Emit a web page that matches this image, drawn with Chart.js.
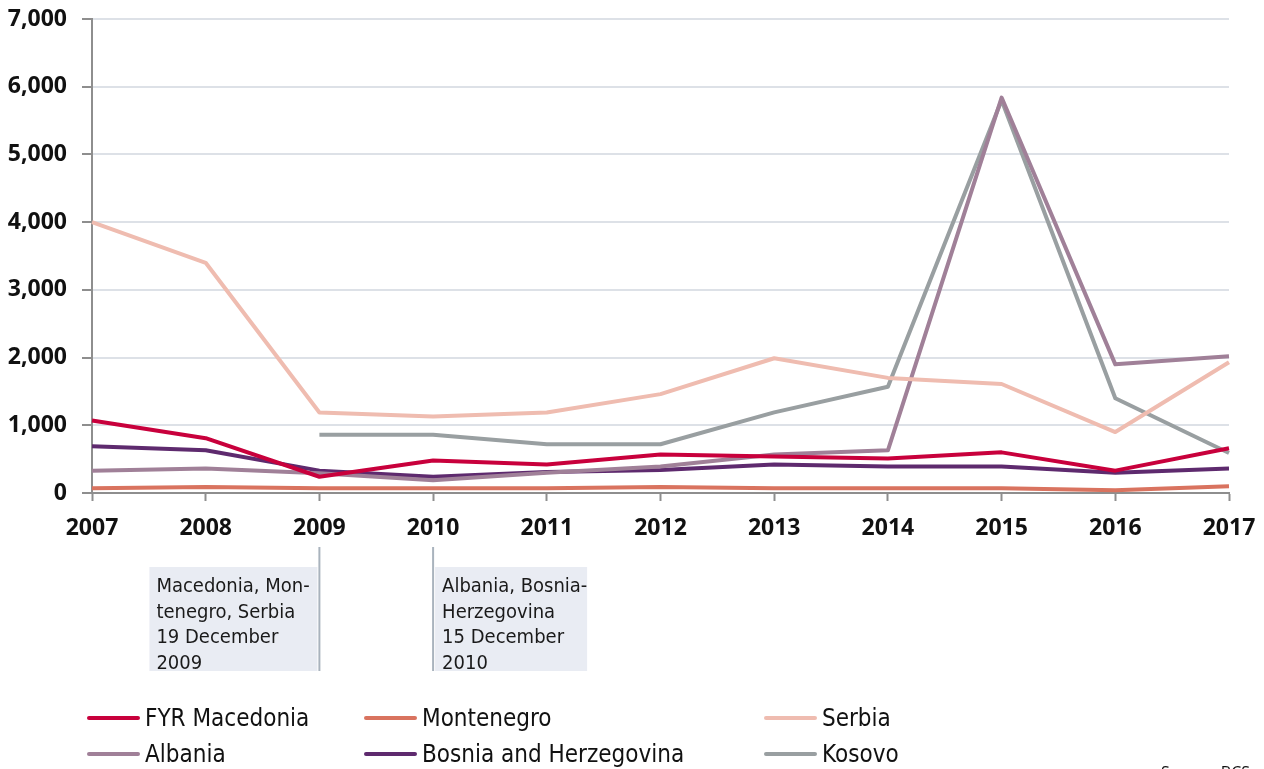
<!DOCTYPE html>
<html>
<head>
<meta charset="utf-8">
<script src="https://cdn.jsdelivr.net/npm/chart.js@4/dist/chart.umd.min.js"></script>
<style>
  html, body { margin: 0; padding: 0; background: #fff; overflow: hidden; }
  #wrap { position: relative; width: 1264px; height: 769px; }
  #legend { position: absolute; left: 0; top: 0; width: 1264px; height: 769px; pointer-events: none;
            font-family: "DejaVu Sans Condensed", "DejaVu Sans", sans-serif; font-size: 24px; color: #111; }
  .item { position: absolute; height: 28px; line-height: 28px; white-space: nowrap; }
  .item span.sw { position: absolute; left: 0; top: 12px; width: 53px; height: 4px; border-radius: 2px; }
  .item span.tx { position: absolute; left: 58px; top: 0; }
  #source { position: absolute; right: 14px; top: 761px; font-family: "Open Sans", sans-serif; font-size: 16px; color: #111; }
</style>
</head>
<body>
<div id="wrap">
  <canvas id="chart" width="1264" height="769"></canvas>
  <div id="legend"></div>
  <div id="source">Source: BCS</div>
</div>
<script>
// years on the x axis
const years = ['2007', '2008', '2009', '2010', '2011', '2012', '2013', '2014', '2015', '2016', '2017'];

// series values
const macedonia  = [1070, 810, 240, 480, 420, 570, 540, 510, 600, 330, 660];
const montenegro = [70, 90, 70, 70, 70, 90, 70, 70, 70, 40, 100];
const serbia     = [4000, 3400, 1190, 1130, 1190, 1460, 1990, 1700, 1610, 900, 1930];
const albania    = [330, 360, 290, 190, 300, 390, 570, 630, 5840, 1900, 2020];
const bosnia     = [690, 630, 330, 240, 310, 340, 420, 390, 390, 300, 360];
const kosovo     = [null, null, 860, 860, 720, 720, 1190, 1570, 5800, 1400, 590];

const seriesNames = ['FYR Macedonia', 'Montenegro', 'Serbia', 'Albania', 'Bosnia and Herzegovina', 'Kosovo'];
const seriesColors = ['#c8003c', '#d9735f', '#efbcb0', '#a08098', '#5e2a6e', '#999fa1'];

// visa liberalisation notes
const notes = [
  { year: '2009', side: 'left',  lines: ['Macedonia, Mon-', 'tenegro, Serbia', '19 December', '2009'] },
  { year: '2010', side: 'right', lines: ['Albania, Bosnia-', 'Herzegovina', '15 December', '2010'] }
];

const allData = [macedonia, montenegro, serbia, albania, bosnia, kosovo];

const datasets = allData.map((d, i) => ({
  label: seriesNames[i],
  data: d,
  borderColor: seriesColors[i],
  backgroundColor: seriesColors[i],
  borderWidth: 4,
  pointRadius: 0,
  tension: 0,
  spanGaps: false,
  borderJoinStyle: 'round'
}));

const notesPlugin = {
  id: 'notes',
  afterDraw(chart) {
    const ctx = chart.ctx;
    const xs = chart.scales.x;
    ctx.save();
    notes.forEach(n => {
      const x = xs.getPixelForValue(years.indexOf(n.year));
      const boxW = n.side === 'left' ? 168 : 152;
      const bx = n.side === 'left' ? x - 2 - boxW : x + 2;
      ctx.fillStyle = '#e9ecf3';
      ctx.fillRect(bx, 567, boxW, 104);
      ctx.strokeStyle = '#a9b3bd';
      ctx.lineWidth = 2;
      ctx.beginPath();
      ctx.moveTo(x, 547);
      ctx.lineTo(x, 671);
      ctx.stroke();
      ctx.fillStyle = '#1a1a1a';
      ctx.font = '20px "DejaVu Sans Condensed", "DejaVu Sans", sans-serif';
      ctx.textBaseline = 'alphabetic';
      n.lines.forEach((t, k) => {
        ctx.fillText(t, bx + 7, 592 + k * 25.5);
      });
    });
    ctx.restore();
  }
};

const chart = new Chart(document.getElementById('chart'), {
  type: 'line',
  data: { labels: years, datasets: datasets },
  options: {
    responsive: false,
    animation: false,
    layout: { padding: { left: 0, right: 35, top: 19, bottom: 226 } },
    plugins: { legend: { display: false }, tooltip: { enabled: false } },
    scales: {
      x: {
        offset: false,
        grid: { drawOnChartArea: false, drawTicks: true, tickLength: 8, tickColor: '#8e8e8e', tickWidth: 2 },
        border: { color: '#8e8e8e', width: 2 },
        ticks: { color: '#111', padding: 14, maxRotation: 0, font: { family: '"Open Sans", sans-serif', size: 23, weight: 'bold' } },
        afterFit(scale) { scale.height = 50; scale.paddingLeft = 0; scale.paddingRight = 0; }
      },
      y: {
        min: 0,
        max: 7000,
        ticks: {
          stepSize: 1000,
          color: '#111',
          padding: 15,
          font: { family: '"Open Sans", sans-serif', size: 23, weight: 'bold' },
          callback: v => v.toLocaleString('en-US')
        },
        grid: { color: '#dde1e7', lineWidth: 2, tickColor: '#8e8e8e', tickLength: 10, tickWidth: 2 },
        border: { color: '#8e8e8e', width: 2 },
        afterFit(scale) { scale.width = 92; scale.paddingTop = 0; scale.paddingBottom = 0; }
      }
    }
  },
  plugins: [notesPlugin]
});

// html legend, two rows of three
const legendPos = [[87, 704], [364, 704], [764, 704], [87, 740], [364, 740], [764, 740]];
const legend = document.getElementById('legend');
seriesNames.forEach((name, i) => {
  const el = document.createElement('div');
  el.className = 'item';
  el.style.left = legendPos[i][0] + 'px';
  el.style.top = legendPos[i][1] + 'px';
  el.innerHTML = '<span class="sw" style="background:' + seriesColors[i] + '"></span><span class="tx">' + name + '</span>';
  legend.appendChild(el);
});
</script>
</body>
</html>
